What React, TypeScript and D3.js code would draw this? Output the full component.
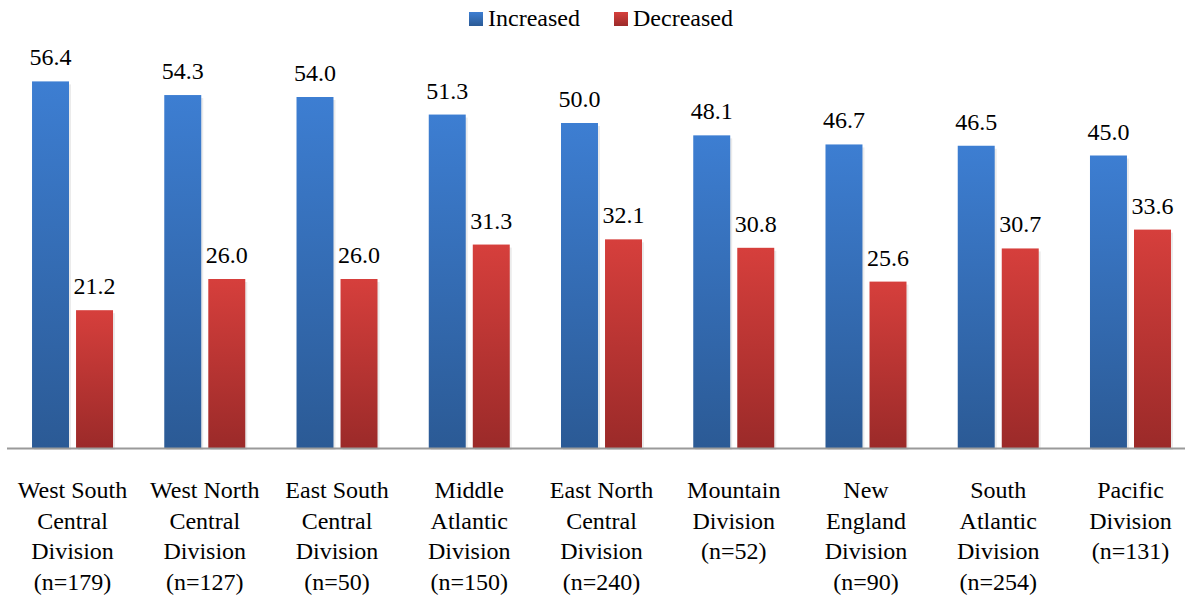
import React from "react";
import * as d3 from "d3";

const categories = [
  ["West South", "Central", "Division", "(n=179)"],
  ["West North", "Central", "Division", "(n=127)"],
  ["East South", "Central", "Division", "(n=50)"],
  ["Middle", "Atlantic", "Division", "(n=150)"],
  ["East North", "Central", "Division", "(n=240)"],
  ["Mountain", "Division", "(n=52)"],
  ["New", "England", "Division", "(n=90)"],
  ["South", "Atlantic", "Division", "(n=254)"],
  ["Pacific", "Division", "(n=131)"],
];
const increased = [56.4, 54.3, 54.0, 51.3, 50.0, 48.1, 46.7, 46.5, 45.0];
const decreased = [21.2, 26.0, 26.0, 31.3, 32.1, 30.8, 25.6, 30.7, 33.6];
const seriesNames = ["Increased", "Decreased"];

const W = 1191;
const H = 599;
const axisLeft = 7;
const axisRight = 1185;
const bandStart = 6.4;
const bandEnd = 1196.6;
const baseline = 448;
const FONT = '"Liberation Serif", Tinos, FreeSerif, "Noto Serif", "DejaVu Serif", serif';

function T(props: any) {
  const { children, ...rest } = props;
  return (
    <text {...rest} fill="#000" style={{ fontFamily: FONT, fontSize: "24px" }}>
      {children}
    </text>
  );
}

export default function App() {
  const x = d3
    .scaleBand<number>()
    .domain(d3.range(categories.length))
    .range([bandStart, bandEnd])
    .paddingInner(0.3875)
    .paddingOuter(0.19375);
  const xs = d3
    .scaleBand<number>()
    .domain([0, 1])
    .range([0, x.bandwidth()])
    .paddingInner(0.16);
  const y = d3.scaleLinear().domain([0, 60]).range([baseline, baseline - 390]);
  const series = [increased, decreased];
  const fills = ["url(#gBlue)", "url(#gRed)"];

  return (
    <svg width={W} height={H} style={{ position: "absolute", left: 0, top: 0 }}>
      <defs>
        <linearGradient id="gBlue" x1="0" y1="0" x2="0" y2="1">
          <stop offset="0" stopColor="#3d7ed2" />
          <stop offset="1" stopColor="#2b5a95" />
        </linearGradient>
        <linearGradient id="gRed" x1="0" y1="0" x2="0" y2="1">
          <stop offset="0" stopColor="#d63f3c" />
          <stop offset="1" stopColor="#9b2a29" />
        </linearGradient>
      </defs>
      {/* legend */}
      <rect x={469} y={12} width={14} height={14} fill="url(#gBlue)" />
      <T x={488} y={26}>{seriesNames[0]}</T>
      <rect x={614} y={12} width={14} height={14} fill="url(#gRed)" />
      <T x={633} y={26}>{seriesNames[1]}</T>
      {/* bars */}
      {series.map((vals, si) =>
        vals.map((v, i) => {
          const bx = (x(i) as number) + (xs(si) as number);
          const top = y(v);
          return (
            <g key={`${si}-${i}`}>
              <rect
                x={bx + 2}
                y={top + 3}
                width={xs.bandwidth()}
                height={baseline - top - 1}
                fill="#000"
                opacity={0.08}
              />
              <rect x={bx} y={top} width={xs.bandwidth()} height={baseline - top} fill={fills[si]} />
              <T x={bx + xs.bandwidth() / 2} y={top - 16} textAnchor="middle">
                {v.toFixed(1)}
              </T>
            </g>
          );
        })
      )}
      {/* axis */}
      <line x1={axisLeft} x2={axisRight} y1={baseline + 0.5} y2={baseline + 0.5} stroke="#9a9a9a" strokeWidth={2} />
      {/* category labels */}
      {categories.map((lines, i) => {
        const cx = (x(i) as number) + x.bandwidth() / 2;
        return lines.map((l, li) => (
          <T key={`${i}-${li}`} x={cx} y={498 + li * 30.5} textAnchor="middle">
            {l}
          </T>
        ));
      })}
    </svg>
  );
}
